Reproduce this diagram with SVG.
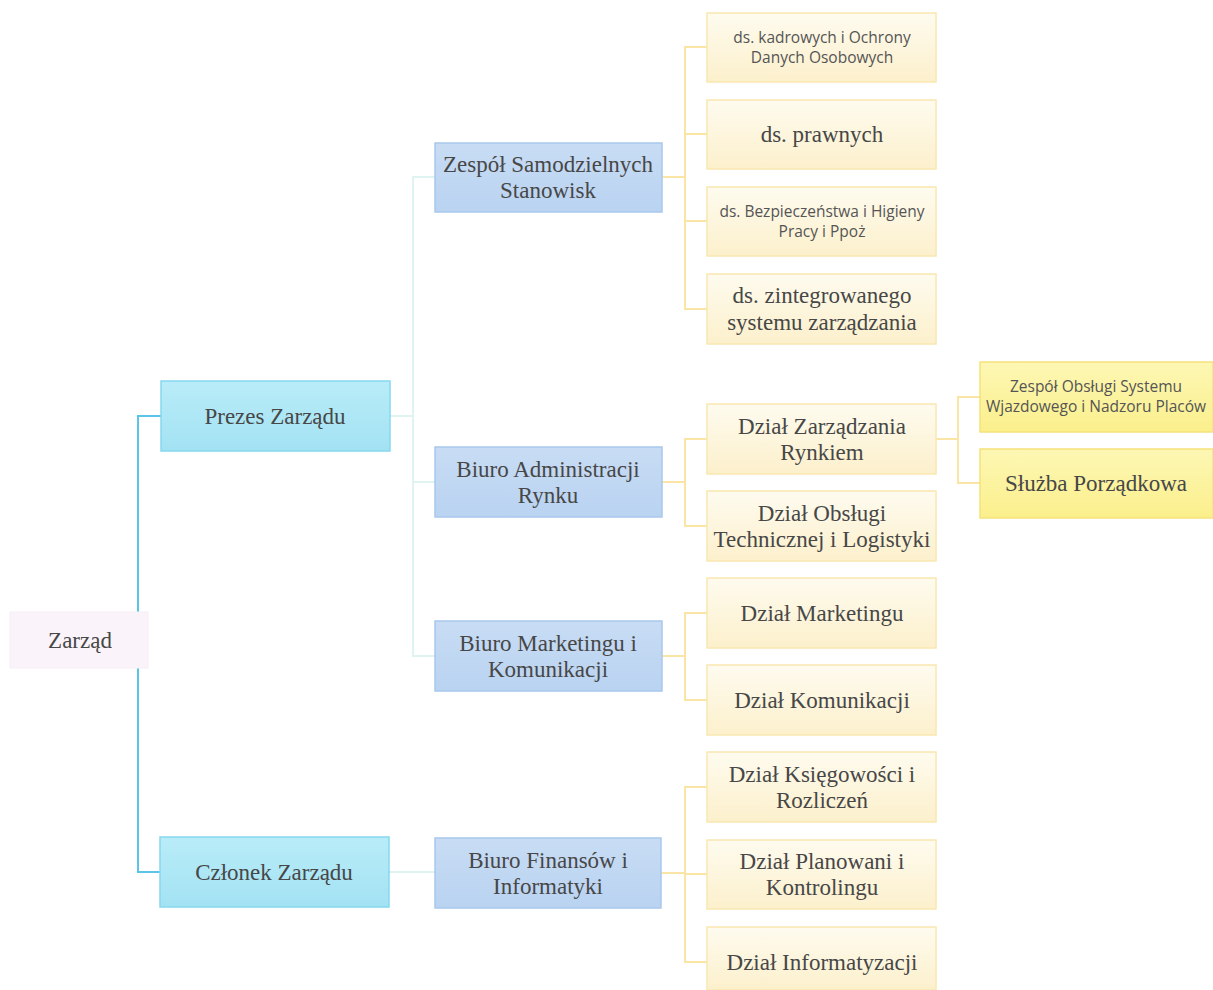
<svg xmlns="http://www.w3.org/2000/svg" width="1213" height="990" viewBox="0 0 1213 990">
<defs>
<linearGradient id="gCyan" x1="0" y1="0" x2="0" y2="1"><stop offset="0" stop-color="#b9ecf8"/><stop offset="1" stop-color="#a3e2f3"/></linearGradient>
<linearGradient id="gBlue" x1="0" y1="0" x2="0" y2="1"><stop offset="0" stop-color="#c8dcf4"/><stop offset="1" stop-color="#b9d3f1"/></linearGradient>
<linearGradient id="gCream" x1="0" y1="0" x2="0" y2="1"><stop offset="0" stop-color="#fefbef"/><stop offset="1" stop-color="#fcf0cc"/></linearGradient>
<linearGradient id="gYellow" x1="0" y1="0" x2="0" y2="1"><stop offset="0" stop-color="#fdf7b4"/><stop offset="1" stop-color="#fbef8c"/></linearGradient>
</defs>
<style>
.cyan{fill:url(#gCyan);stroke:#86d8ee;stroke-width:1.5}
.blue{fill:url(#gBlue);stroke:#a8c8ec;stroke-width:1.5}
.cream{fill:url(#gCream);stroke:#f9e8b0;stroke-width:1.5}
.yel{fill:url(#gYellow);stroke:#f6e27a;stroke-width:1.5}
.root{fill:#faf4fa;stroke:#f6eef6;stroke-width:1}
.t{font-family:"Liberation Serif","DejaVu Serif",serif;font-size:23px;fill:#474747;text-anchor:middle}
.s{font-family:"Open Sans","DejaVu Sans",sans-serif;font-size:15.5px;fill:#555;text-anchor:middle}
.lc{fill:none;stroke:#5cc4e8;stroke-width:2}
.lf{fill:none;stroke:#dff3f0;stroke-width:2}
.ly{fill:none;stroke:#fbe5a6;stroke-width:2}
.lg{fill:none;stroke:#cfcfcf;stroke-width:1}
</style>
<rect width="1213" height="990" fill="#ffffff"/>
<g id="connectors">
<path class="lg" d="M116 640 H138"/>
<path class="lc" d="M161 416 H138 V872 H160"/>
<path class="lf" d="M390 416 H413 M435 177 H413 V656 H435 M413 482 H435 M389 872 H435"/>
<path class="ly" d="M662 177 H685 M707 47 H685 V309 H707 M685 134 H707 M685 221 H707"/>
<path class="ly" d="M662 482 H685 M707 439 H685 V526 H707"/>
<path class="ly" d="M936 439 H958 M980 397 H958 V483 H980"/>
<path class="ly" d="M662 656 H685 M707 613 H685 V700 H707"/>
<path class="ly" d="M661 873 H685 M707 787 H685 V962 H707 M685 874 H707"/>
</g>
<g id="zarzad"><rect class="root" x="10" y="612" width="138" height="56"/><text class="t" x="80" y="648">Zarząd</text></g>
<g id="prezes"><rect class="cyan" x="161" y="381" width="229" height="70"/><text class="t" x="275" y="424">Prezes Zarządu</text></g>
<g id="czlonek"><rect class="cyan" x="160" y="837" width="229" height="70"/><text class="t" x="274" y="880">Członek Zarządu</text></g>
<g id="zespol-samodzielnych"><rect class="blue" x="435" y="143" width="227" height="69"/><text class="t" x="548" y="172">Zespół Samodzielnych</text><text class="t" x="548" y="198">Stanowisk</text></g>
<g id="biuro-admin"><rect class="blue" x="435" y="447" width="227" height="70"/><text class="t" x="548" y="477">Biuro Administracji</text><text class="t" x="548" y="503">Rynku</text></g>
<g id="biuro-marketingu"><rect class="blue" x="435" y="621" width="227" height="70"/><text class="t" x="548" y="651">Biuro Marketingu i</text><text class="t" x="548" y="677">Komunikacji</text></g>
<g id="biuro-finansow"><rect class="blue" x="435" y="838" width="226" height="70"/><text class="t" x="548" y="868">Biuro Finansów i</text><text class="t" x="548" y="894">Informatyki</text></g>
<g id="ds-kadrowych"><rect class="cream" x="707" y="13" width="229" height="69"/><text class="s" x="822" y="43">ds. kadrowych i Ochrony</text><text class="s" x="822" y="63">Danych Osobowych</text></g>
<g id="ds-prawnych"><rect class="cream" x="707" y="100" width="229" height="69"/><text class="t" x="822" y="142">ds. prawnych</text></g>
<g id="ds-bhp"><rect class="cream" x="707" y="187" width="229" height="69"/><text class="s" x="822" y="217">ds. Bezpieczeństwa i Higieny</text><text class="s" x="822" y="237">Pracy i Ppoż</text></g>
<g id="ds-zintegrowanego"><rect class="cream" x="707" y="274" width="229" height="70"/><text class="t" x="822" y="303">ds. zintegrowanego</text><text class="t" x="822" y="330">systemu zarządzania</text></g>
<g id="dzial-zarzadzania"><rect class="cream" x="707" y="404" width="229" height="70"/><text class="t" x="822" y="434">Dział Zarządzania</text><text class="t" x="822" y="460">Rynkiem</text></g>
<g id="dzial-obslugi"><rect class="cream" x="707" y="491" width="229" height="70"/><text class="t" x="822" y="521">Dział Obsługi</text><text class="t" x="822" y="547">Technicznej i Logistyki</text></g>
<g id="zespol-obslugi"><rect class="yel" x="980" y="362" width="233" height="70"/><text class="s" x="1096" y="392">Zespół Obsługi Systemu</text><text class="s" x="1096" y="412">Wjazdowego i Nadzoru Placów</text></g>
<g id="sluzba"><rect class="yel" x="980" y="449" width="233" height="69"/><text class="t" x="1096" y="491">Służba Porządkowa</text></g>
<g id="dzial-marketingu"><rect class="cream" x="707" y="578" width="229" height="70"/><text class="t" x="822" y="621">Dział Marketingu</text></g>
<g id="dzial-komunikacji"><rect class="cream" x="707" y="665" width="229" height="70"/><text class="t" x="822" y="708">Dział Komunikacji</text></g>
<g id="dzial-ksiegowosci"><rect class="cream" x="707" y="752" width="229" height="70"/><text class="t" x="822" y="782">Dział Księgowości i</text><text class="t" x="822" y="808">Rozliczeń</text></g>
<g id="dzial-planowani"><rect class="cream" x="707" y="840" width="229" height="69"/><text class="t" x="822" y="869">Dział Planowani i</text><text class="t" x="822" y="895">Kontrolingu</text></g>
<g id="dzial-informatyzacji"><rect class="cream" x="707" y="927" width="229" height="63"/><text class="t" x="822" y="970">Dział Informatyzacji</text></g>
</svg>
